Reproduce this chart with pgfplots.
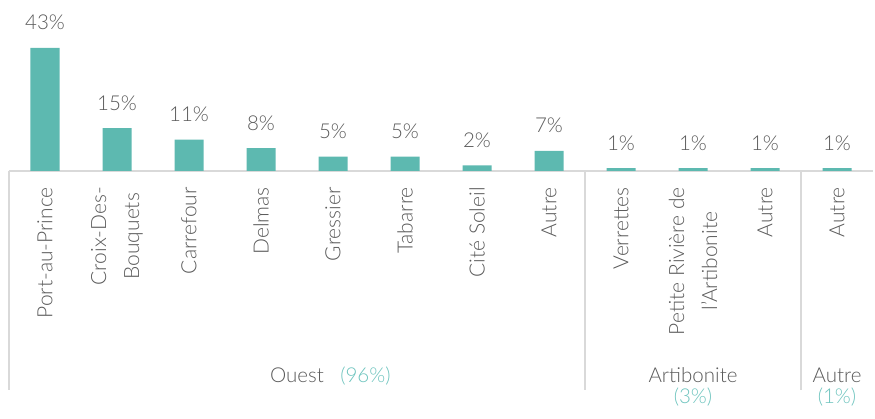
\documentclass[border=0pt]{standalone}
\usepackage{fontspec}
\setmainfont{Lato}[UprightFont=* Light]
\usepackage{pgfplots}
\pgfplotsset{compat=1.18}
\definecolor{barteal}{RGB}{93,185,176}
\definecolor{txtteal}{RGB}{110,196,190}
\definecolor{txtgray}{RGB}{90,90,90}
\definecolor{linegray}{RGB}{217,217,217}
\begin{document}
\begin{tikzpicture}[x=1pt,y=1pt]
\useasboundingbox (0,0) rectangle (875,419);
\begin{axis}[
  at={(9pt,248pt)}, anchor=south west,
  scale only axis, width=864pt, height=123pt,
  xmin=-0.5, xmax=11.5, ymin=0, ymax=43,
  axis x line=bottom, axis y line=none,
  x axis line style={-, draw=linegray, line width=1.5pt},
  ybar, bar width=29pt,
  xtick={0,1,2,3,4,5,6,7,8,9,10,11},
  xticklabels={Port-au-Prince, {Croix-Des-\\Bouquets}, Carrefour, Delmas, Gressier, Tabarre, Cité Soleil, Autre, Verrettes, {Petite Rivière de\\l'Artibonite}, Autre, Autre},
  major tick length=0pt,
  xticklabel shift=16pt,
  xticklabel style={rotate=90, anchor=east, align=center, inner sep=0pt,
    font=\fontsize{21}{33}\selectfont, text=txtgray},
  nodes near coords={\pgfmathprintnumber[assume math mode=true]{\pgfplotspointmeta}\%},
  every node near coord/.append style={anchor=base, yshift=18pt, inner sep=0pt,
    font=\fontsize{20.5}{22}\selectfont, text=txtgray},
  clip=false,
]
\addplot[fill=barteal, draw=none] coordinates {
  (0,43) (1,15) (2,11) (3,8) (4,5) (5,5) (6,2) (7,7) (8,1) (9,1) (10,1) (11,1)};
\draw[linegray, line width=1.5pt] (axis cs:-0.5,0) -- ([yshift=-219pt]axis cs:-0.5,0);
\draw[linegray, line width=1.5pt] (axis cs:7.5,0) -- ([yshift=-219pt]axis cs:7.5,0);
\draw[linegray, line width=1.5pt] (axis cs:10.5,0) -- ([yshift=-219pt]axis cs:10.5,0);
\node[anchor=base, inner sep=0pt, text=txtgray, font=\fontsize{20.5}{22}\selectfont] (ou) at ([yshift=-212pt]axis cs:3.5,0) {Ouest};
\node[anchor=base west, inner sep=0pt, text=txtteal, font=\fontsize{20.5}{22}\selectfont] at ([xshift=16pt]ou.base east) {(96\%)};
\node[anchor=base, inner sep=0pt, text=txtgray, font=\fontsize{20.5}{22}\selectfont] at ([yshift=-212pt]axis cs:9,0) {Artibonite};
\node[anchor=base, inner sep=0pt, text=txtteal, font=\fontsize{20.5}{22}\selectfont] at ([yshift=-233pt]axis cs:9,0) {(3\%)};
\node[anchor=base, inner sep=0pt, text=txtgray, font=\fontsize{20.5}{22}\selectfont] at ([yshift=-212pt]axis cs:11,0) {Autre};
\node[anchor=base, inner sep=0pt, text=txtteal, font=\fontsize{20.5}{22}\selectfont] at ([yshift=-233pt]axis cs:11,0) {(1\%)};
\end{axis}
\end{tikzpicture}
\end{document}
